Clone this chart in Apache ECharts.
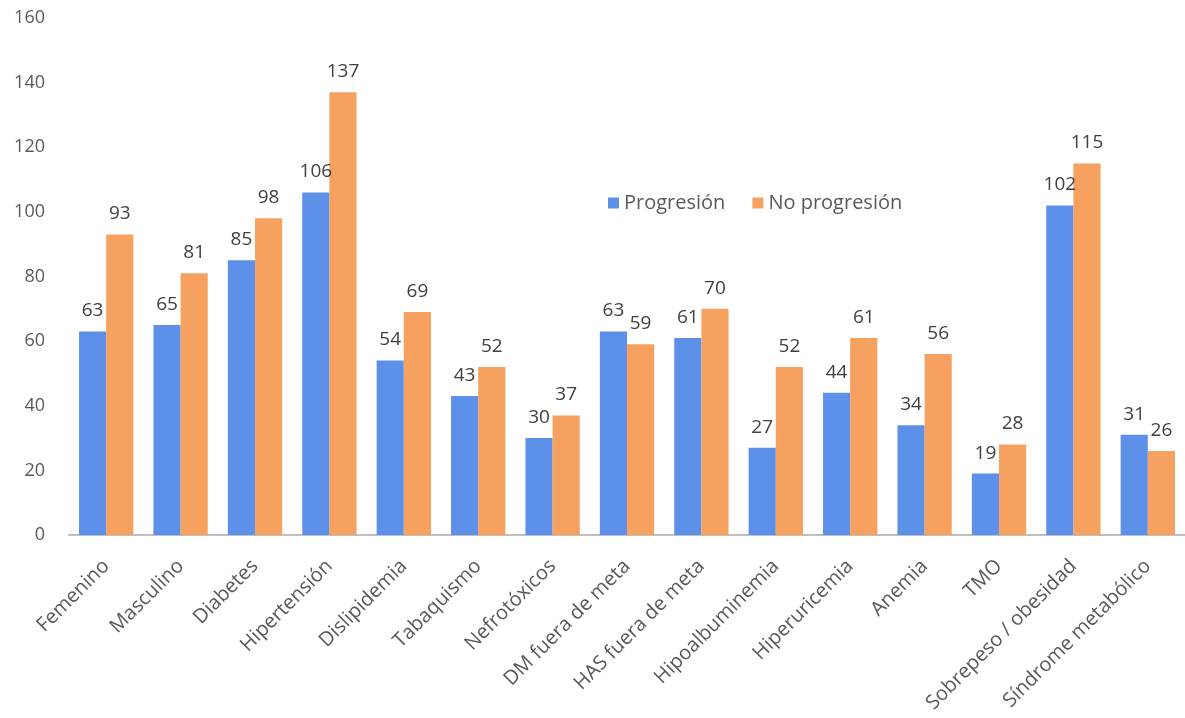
<!DOCTYPE html>
<html><head><meta charset="utf-8">
<script src="https://cdn.jsdelivr.net/npm/echarts@6/dist/echarts.min.js"></script>
<style>html,body{margin:0;padding:0;background:#fff}#c{width:1185px;height:718px}</style>
</head><body><div id="c"></div>
<script>
const categories = ["Femenino","Masculino","Diabetes","Hipertensión","Dislipidemia","Tabaquismo","Nefrotóxicos","DM fuera de meta","HAS fuera de meta","Hipoalbuminemia","Hiperuricemia","Anemia","TMO","Sobrepeso / obesidad","Síndrome metabólico"];
const progresion = [63,65,85,106,54,43,30,63,61,27,44,34,19,102,31];
const noProgresion = [93,81,98,137,69,52,37,59,70,52,61,56,28,115,26];
const yTicks = {min:0,max:160,interval:20};
const font = "Open Sans";
const chart = echarts.init(document.getElementById('c'));
const lbl = {show:true,position:'top',distance:11,color:'#404040',fontSize:19,fontFamily:font};
chart.setOption({
  animation:false,
  textStyle:{fontFamily:font},
  grid:{left:69,right:0,top:18,bottom:183,containLabel:false},
  legend:{top:188,left:603,itemWidth:11,itemHeight:11,itemGap:27,icon:'rect',
    textStyle:{fontSize:20,color:'#595959',fontFamily:font},
    data:['Progresión','No progresión']},
  xAxis:{type:'category',data:categories,
    axisLine:{lineStyle:{color:'#bfbfbf',width:2}},axisTick:{show:false},
    axisLabel:{rotate:45,interval:0,fontSize:20,color:'#595959',fontFamily:font,margin:28}},
  yAxis:{type:'value',min:yTicks.min,max:yTicks.max,interval:yTicks.interval,
    splitLine:{show:false},axisLine:{show:false},axisTick:{show:false},
    axisLabel:{fontSize:18,color:'#595959',fontFamily:font,margin:24}},
  series:[
    {name:'Progresión',type:'bar',data:progresion,barGap:'0%',barCategoryGap:'27%',
      itemStyle:{color:'#5D90E9'},label:lbl},
    {name:'No progresión',type:'bar',data:noProgresion,
      itemStyle:{color:'#F6A160'},label:lbl}
  ]
});
</script></body></html>
